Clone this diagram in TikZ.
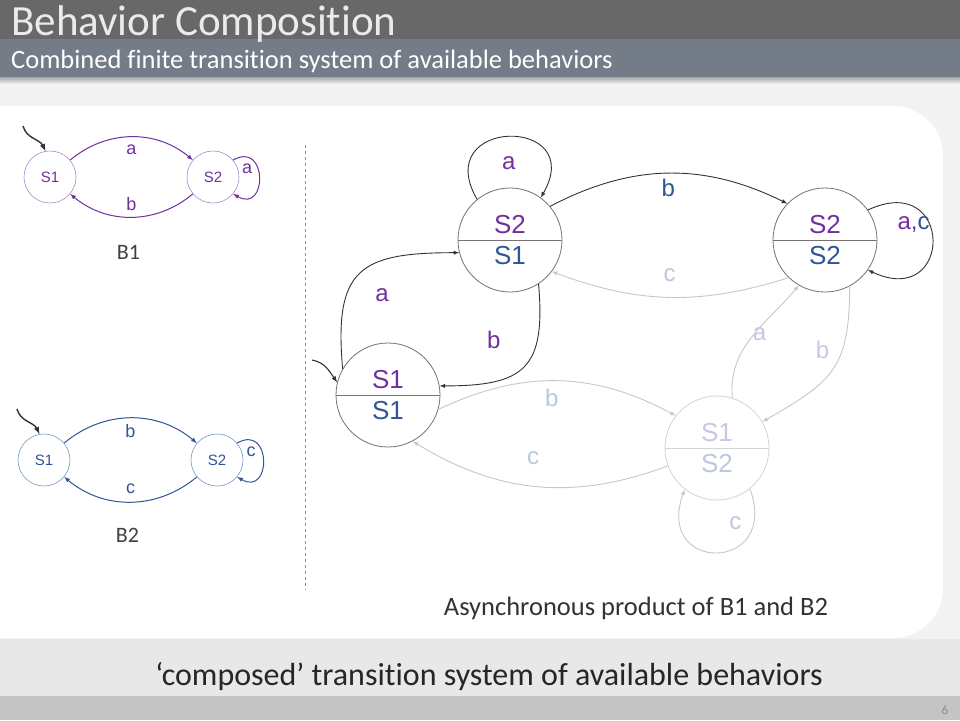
\documentclass[tikz,border=0pt]{standalone}
\usepackage{fontspec}
\setmainfont{Carlito}[Ligatures=NoCommon]
\newfontfamily\arialfont{Liberation Sans}
\usetikzlibrary{shapes,arrows}

\definecolor{bpurple}{RGB}{112,48,160}
\definecolor{bblue}{RGB}{47,85,151}
\definecolor{lpurple}{RGB}{168,140,205}
\definecolor{lblue}{RGB}{120,150,198}
\definecolor{fpurple}{RGB}{208,196,228}
\definecolor{fblue}{RGB}{188,200,222}
\definecolor{headgray}{RGB}{104,104,104}
\definecolor{subgray}{RGB}{116,124,135}

\begin{document}
\begin{tikzpicture}[x=1pt,y=1pt,>=latex]
\tikzstyle{bstate}=[circle, minimum size=52pt, inner sep=0pt, line width=0.6pt, font=\arialfont\fontsize{15}{15}\selectfont]
\tikzstyle{pstate}=[circle split, minimum size=104pt, inner sep=6pt, line width=0.8pt, draw=black!55, font=\arialfont\fontsize{26}{26}\selectfont]
\tikzstyle{blabel}=[font=\arialfont\fontsize{18}{18}\selectfont, inner sep=0pt]
\tikzstyle{plabel}=[font=\arialfont\fontsize{24}{24}\selectfont, inner sep=0pt]
\tikzstyle{bedge}=[->, line width=1pt]
\tikzstyle{solidedge}=[->, draw=black!80, line width=0.9pt]
\tikzstyle{fadeedge}=[->, draw=black!22, line width=0.9pt]
\tikzstyle{initedge}=[->, draw=black!80, line width=1.4pt]
\useasboundingbox (0,0) rectangle (960,-720);

% slide
\fill[black!5] (0,0) rectangle (960,-720);
\fill[black!9] (0,-639) rectangle (960,-696);
\fill[black!23] (0,-696) rectangle (960,-720);
\fill[white] (0,-106) -- (893,-106) arc[start angle=90, end angle=0, radius=50] -- (943,-588) arc[start angle=0, end angle=-90, radius=50] -- (0,-638) -- cycle;
\shade[top color=black!35, bottom color=black!5] (0,-77) rectangle (960,-84);
\fill[headgray] (0,0) rectangle (960,-39);
\fill[subgray] (0,-39) rectangle (960,-77);
\node[anchor=base west, inner sep=0pt, text=black!8, font=\fontsize{43}{43}\selectfont] (title) at (11,-35) {Behavior Composition};
\node[anchor=base west, inner sep=0pt, text=white, font=\fontsize{26.5}{26.5}\selectfont] (subtitle) at (11,-68) {Combined finite transition system of available behaviors};
\draw[black!45, dashed, line width=0.6pt] (305,-145) -- (305,-590);

% B1 and B2
\foreach \m/\col/\lcol/\yy/\xa/\xb/\fwd/\bwd/\self in {1/bpurple/lpurple/177/50/213/a/b/a, 2/bblue/lblue/460/44/217/b/c/c}
{
    \node[bstate, draw=\lcol, text=\col] (s1-\m) at (\xa,-\yy) {S1};
    \node[bstate, draw=\lcol, text=\col] (s2-\m) at (\xb,-\yy) {S2};
    \coordinate (i-\m) at (\xa-27,51-\yy);
    \path (i-\m) edge[initedge, out=-75, in=115] (s1-\m.100);
    \path (s1-\m) edge[bedge, draw=\col, bend left=40] node[blabel, text=\col, yshift=-13pt] {\fwd} (s2-\m);
    \path (s2-\m) edge[bedge, draw=\col, bend left=40] node[blabel, text=\col, yshift=13pt] {\bwd} (s1-\m);
    \path (s2-\m.40) edge[bedge, draw=\col, out=30, in=-30, distance=40] node[blabel, text=\col, xshift=-12pt, yshift=8pt] {\self} (s2-\m.-40);
    \node[anchor=base, text=black!75, font=\fontsize{22}{22}\selectfont] (b-\m) at ({(\xa+\xb)/2-3},-\yy-82) {B\m};
}

% product
\node[pstate] (q11) at (388,-395) {\textcolor{bpurple}{S1}\nodepart{lower}\textcolor{bblue}{S1}};
\node[pstate] (q21) at (510,-240) {\textcolor{bpurple}{S2}\nodepart{lower}\textcolor{bblue}{S1}};
\node[pstate] (q22) at (825,-240) {\textcolor{bpurple}{S2}\nodepart{lower}\textcolor{bblue}{S2}};
\node[pstate, draw=black!17] (q12) at (717,-448) {\textcolor{fpurple}{S1}\nodepart{lower}\textcolor{fblue}{S2}};
\coordinate (i0) at (312,-360);
\path (i0) edge[initedge, line width=1.1pt, out=-10, in=125] (q11.166);
\path (q21.129) edge[solidedge, out=120, in=60, distance=95] node[plabel, text=bpurple, yshift=-26pt] {a} (q21.54);
\path (q21.40) edge[solidedge, bend left=27] node[plabel, text=bblue, yshift=-15pt] {b} (q22.136);
\path (q22.226) edge[fadeedge, bend left=19] node[plabel, text=fblue, yshift=22pt] {c} (q21.323);
\path (q22.35) edge[solidedge, out=25, in=-25, distance=95] node[plabel, xshift=-19pt, yshift=15pt] {\textcolor{bpurple}{a,}\textcolor{bblue}{c}} (q22.-35);
\path (q11.150) edge[solidedge, out=95, in=180, distance=100] node[plabel, text=bpurple, xshift=22pt, yshift=-22pt] {a} (q21.194);
\path (q21.303) edge[solidedge, out=-85, in=0, distance=85] node[plabel, text=bpurple, xshift=-30pt, yshift=27pt] {b} (q11.10);
\path (q11.-16) edge[fadeedge, bend left=27] node[plabel, text=fblue, xshift=-6pt, yshift=-17pt] {b} (q12.142);
\path (q12.200) edge[fadeedge, bend left=26] node[plabel, text=fblue, xshift=-4pt, yshift=28pt] {c} (q11.-62);
\path (q12.-51) edge[fadeedge, out=-70, in=-110, distance=90] node[plabel, text=fblue, xshift=18pt, yshift=29pt] {c} (q12.-128);
\path (q12.73) edge[fadeedge, out=95, in=230] node[plabel, text=fpurple, xshift=8pt, yshift=3pt] {a} (q22.240);
\path (q22.-62) edge[fadeedge, out=-90, in=30, looseness=1.3] node[plabel, text=fpurple, xshift=-10pt, yshift=19pt] {b} (q12.30);

\node[anchor=base, text=black!80, font=\fontsize{26.5}{26.5}\selectfont] (prodcap) at (636,-615) {Asynchronous product of B1 and B2};
\node[anchor=base, text=black!85, font=\fontsize{32}{32}\selectfont] (bottomtext) at (489,-685) {‘composed’ transition system of available behaviors};
\node[anchor=base, text=black!45, font=\fontsize{13}{13}\selectfont] (pagenum) at (945,-714) {6};
\end{tikzpicture}
\end{document}
